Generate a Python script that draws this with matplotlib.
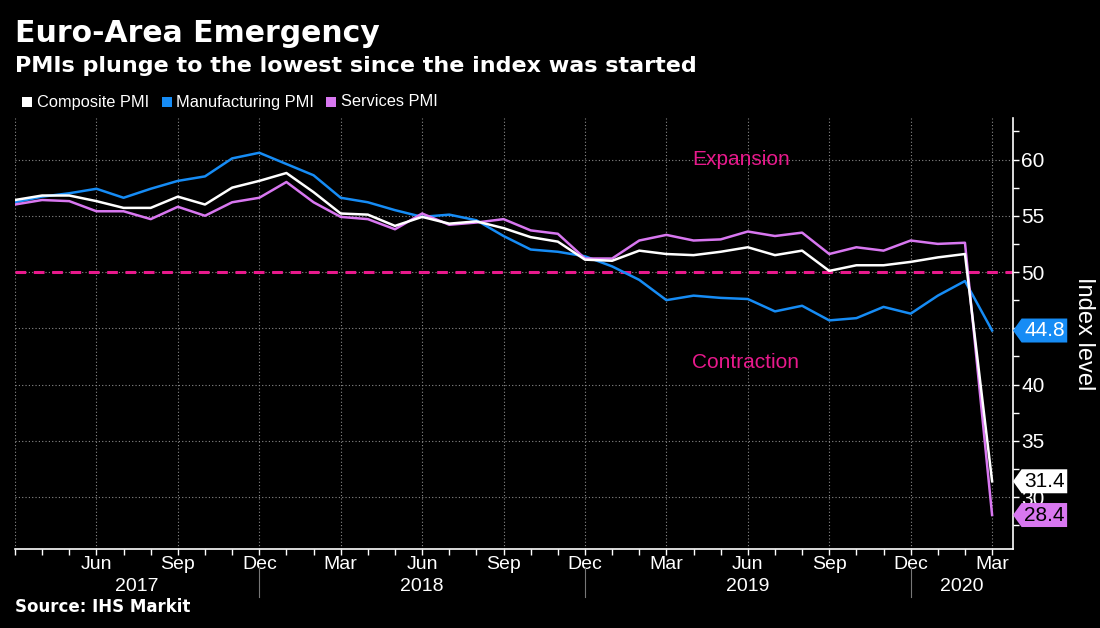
import matplotlib
matplotlib.use("Agg")
import matplotlib.pyplot as plt
from matplotlib.path import Path
from matplotlib.lines import Line2D
import numpy as np

# ---------------- data ----------------
months = ["Mar", "Apr", "May", "Jun", "Jul", "Aug", "Sep", "Oct", "Nov", "Dec",
          "Jan", "Feb", "Mar", "Apr", "May", "Jun", "Jul", "Aug", "Sep", "Oct", "Nov", "Dec",
          "Jan", "Feb", "Mar", "Apr", "May", "Jun", "Jul", "Aug", "Sep", "Oct", "Nov", "Dec",
          "Jan", "Feb", "Mar"]
composite = [56.4, 56.8, 56.8, 56.3, 55.7, 55.7, 56.7, 56.0, 57.5, 58.1,
             58.8, 57.1, 55.2, 55.1, 54.1, 54.9, 54.3, 54.5, 53.9, 53.1, 52.7, 51.1,
             51.0, 51.9, 51.6, 51.5, 51.8, 52.2, 51.5, 51.9, 50.1, 50.6, 50.6, 50.9,
             51.3, 51.6, 31.4]
manufacturing = [56.2, 56.7, 57.0, 57.4, 56.6, 57.4, 58.1, 58.5, 60.1, 60.6,
                 59.6, 58.6, 56.6, 56.2, 55.5, 54.9, 55.1, 54.6, 53.2, 52.0, 51.8, 51.4,
                 50.5, 49.3, 47.5, 47.9, 47.7, 47.6, 46.5, 47.0, 45.7, 45.9, 46.9, 46.3,
                 47.9, 49.2, 44.8]
services = [56.0, 56.4, 56.3, 55.4, 55.4, 54.7, 55.8, 55.0, 56.2, 56.6,
            58.0, 56.2, 54.9, 54.7, 53.8, 55.2, 54.2, 54.4, 54.7, 53.7, 53.4, 51.2,
            51.2, 52.8, 53.3, 52.8, 52.9, 53.6, 53.2, 53.5, 51.6, 52.2, 51.9, 52.8,
            52.5, 52.6, 28.4]
series_names = ["Composite PMI", "Manufacturing PMI", "Services PMI"]
years = ["2017", "2018", "2019", "2020"]
year_bounds = [0, 9, 21, 33, 36.77]
yticks = [30, 35, 40, 45, 50, 55, 60]
ytick_labels = ["30", "35", "40", "", "50", "55", "60"]  # 45 is hidden behind the tag

# ---------------- style ----------------
plt.rcParams['font.family'] = ['Liberation Sans', 'DejaVu Sans']

BG = "black"
WHITE = "#ffffff"
BLUE = "#168cf5"
VIOLET = "#d877f0"
MAGENTA = "#e8198c"
GRID = "#8a8a8a"

fig = plt.figure(figsize=(11, 6.28), dpi=100, facecolor=BG)
ax = fig.add_axes([15/1100, 1-549/628, (1013-15)/1100, (549-118)/628])
ax.set_facecolor(BG)

x = np.arange(len(months))
ax.plot(x, manufacturing, color=BLUE, lw=1.8, zorder=3)
ax.plot(x, services, color=VIOLET, lw=1.8, zorder=3)
ax.plot(x, composite, color=WHITE, lw=1.8, zorder=4)
ax.axhline(50, color=MAGENTA, lw=2.2, ls=(0, (3.5, 2.5)), zorder=2)

ax.set_xlim(0, 36.77)
ax.set_ylim(25.38, 63.69)

# spines
for s in ["left", "top"]:
    ax.spines[s].set_visible(False)
ax.spines["right"].set_color(WHITE)
ax.spines["bottom"].set_color(WHITE)
ax.spines["right"].set_linewidth(1.2)
ax.spines["bottom"].set_linewidth(1.2)

# y axis on right
ax.yaxis.tick_right()
ax.yaxis.set_label_position("right")
ax.set_yticks(yticks)
ax.set_yticklabels(ytick_labels)
ax.set_yticks(np.arange(27.5, 63, 5), minor=True)
ax.tick_params(axis="y", which="both", colors=WHITE, labelcolor=WHITE,
               labelsize=15, length=4, width=1, direction="out", pad=2)
ax.set_ylabel("Index level", color=WHITE, fontsize=17, rotation=270,
              labelpad=36)

# x axis
major = list(range(0, 37, 3))
ax.set_xticks(major)
ax.set_xticklabels(["" if i == 0 else months[i] for i in major])
ax.set_xticks(np.arange(0, 37), minor=True)
ax.tick_params(axis="x", which="both", colors=WHITE, labelcolor=WHITE,
               labelsize=14, length=4, width=1, direction="out", pad=1)

ax.grid(True, which="major", color=GRID, ls=(0, (1, 2)), lw=0.8, zorder=1)

# year labels & separators
xt = ax.get_xaxis_transform()
for i, yr in enumerate(years):
    c = (year_bounds[i] + year_bounds[i+1]) / 2
    ax.text(c, -0.088, yr, transform=xt, ha="center", va="center",
            color=WHITE, fontsize=14)
for b in year_bounds[1:-1]:
    ax.add_line(Line2D([b, b], [-0.042, -0.112], transform=xt, color="#777777",
                       lw=0.8, clip_on=False))

# zone labels
ax.text(24.95, 60.0, "Expansion", color=MAGENTA, fontsize=15, ha="left", va="center")
ax.text(24.95, 42.0, "Contraction", color=MAGENTA, fontsize=15, ha="left", va="center")

# value tags
def tag_box(x0, y0, width, height, mutation_size):
    pad = 0.12 * mutation_size
    x0 -= pad; y0 -= pad
    width += 2 * pad; height += 2 * pad
    tip = height * 0.36
    verts = [(x0 - tip, y0 + height / 2), (x0, y0), (x0 + width, y0),
             (x0 + width, y0 + height), (x0, y0 + height),
             (x0 - tip, y0 + height / 2), (x0 - tip, y0 + height / 2)]
    codes = [Path.MOVETO] + [Path.LINETO] * 5 + [Path.CLOSEPOLY]
    return Path(verts, codes)

yt = ax.get_yaxis_transform()
for val, fc, tc in [(manufacturing[-1], BLUE, WHITE),
                    (composite[-1], WHITE, "black"),
                    (services[-1], VIOLET, "black")]:
    ax.annotate(f"{val:.1f}", xy=(1, val), xycoords=yt, xytext=(8, 0),
                textcoords="offset points", ha="left", va="center",
                fontsize=15, color=tc, zorder=10, annotation_clip=False,
                bbox=dict(boxstyle=tag_box, fc=fc, ec="none"))

# titles
fig.text(15/1100, 1-34/628, "Euro-Area Emergency", color=WHITE, fontsize=21.5,
         fontweight="bold", ha="left", va="center", family=["DejaVu Sans"])
fig.text(15/1100, 1-66/628, "PMIs plunge to the lowest since the index was started",
         color=WHITE, fontsize=16, fontweight="bold", ha="left", va="center",
         family=["DejaVu Sans"])

# legend
leg_items = [(22, 37, WHITE, series_names[0]), (162, 176, BLUE, series_names[1]),
             (326, 341, VIOLET, series_names[2])]
for sq, tx, col, name in leg_items:
    fig.patches.append(plt.Rectangle((sq/1100, 1-107/628), 10/1100, 10/628,
                                     transform=fig.transFigure, fc=col, ec="none"))
    fig.text(tx/1100, 1-102/628, name, color=WHITE, fontsize=11.8,
             ha="left", va="center")

# source
fig.text(15/1100, 1-607/628, "Source: IHS Markit", color=WHITE, fontsize=12,
         fontweight="bold", ha="left", va="center", family=["DejaVu Sans"])

fig.savefig("out.png", dpi=100, facecolor=BG)
